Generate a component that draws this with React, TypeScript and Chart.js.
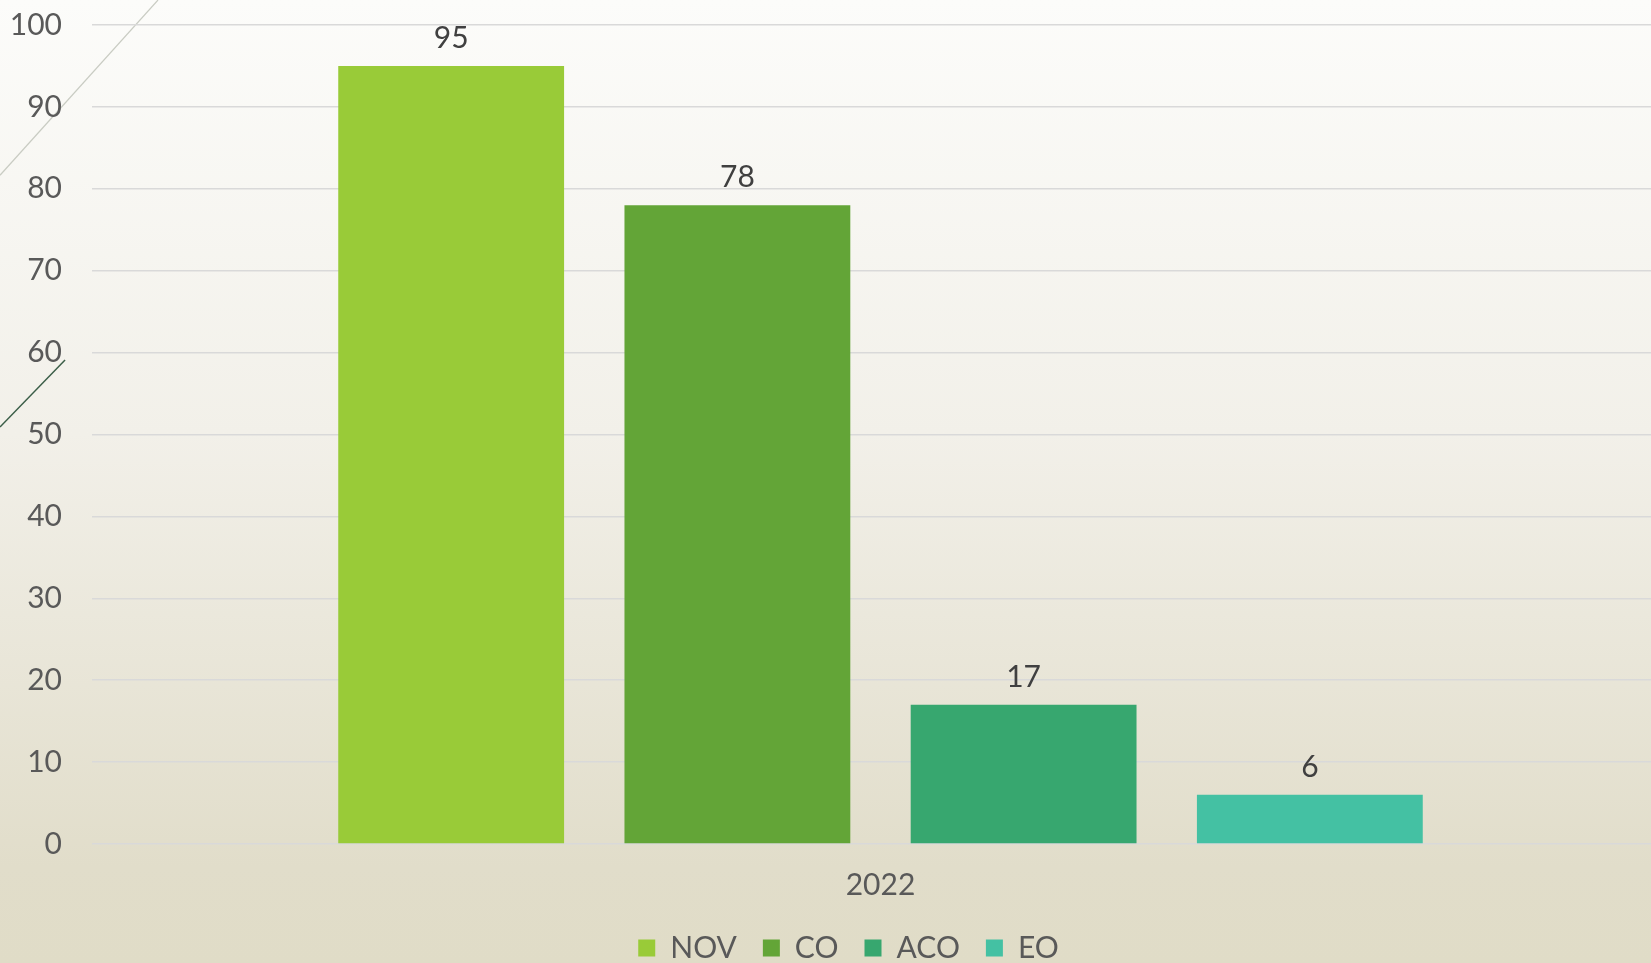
import React, { useEffect, useRef } from "react";
import { Chart, registerables } from "chart.js";

Chart.register(...registerables);

// ---- data ----
const categories = ["2022"];
const seriesNames = ["NOV", "CO", "ACO", "EO"];
const novValues = [95];
const coValues = [78];
const acoValues = [17];
const eoValues = [6];
const seriesColors = ["#99CB38", "#63A537", "#37A76F", "#44C1A3"];
const yMin = 0;
const yMax = 100;
const yStep = 10;

const FONT = "Lato, 'Noto Sans', sans-serif";

const backgroundPlugin = {
  id: "slideBackground",
  beforeDraw(chart: any) {
    const { ctx, width, height } = chart;
    ctx.save();
    const g = ctx.createLinearGradient(0, 0, 0, height);
    g.addColorStop(0, "#fcfcfa");
    g.addColorStop(0.45, "#f2f0e9");
    g.addColorStop(0.9, "#e1ddca");
    g.addColorStop(1, "#e0dcc7");
    ctx.fillStyle = g;
    ctx.fillRect(0, 0, width, height);
    // decorative theme lines
    ctx.lineWidth = 1.2;
    ctx.strokeStyle = "#c9ccc3";
    ctx.beginPath();
    ctx.moveTo(0, height * 0.182);
    ctx.lineTo(width * 0.0957, 0);
    ctx.stroke();
    ctx.lineWidth = 1.5;
    ctx.strokeStyle = "#3b5e48";
    ctx.beginPath();
    ctx.moveTo(0, height * 0.4434);
    ctx.lineTo(width * 0.0394, height * 0.3738);
    ctx.stroke();
    ctx.restore();
  },
};

const layoutTweakPlugin = {
  id: "layoutTweak",
  afterLayout(chart: any) {
    const extra = 18;
    const x = chart.scales.x;
    x.right += extra;
    x.width += extra;
    x.configure();
    chart.chartArea.right += extra;
    chart.chartArea.width += extra;
    const shift = 23;
    if (chart.legend) {
      chart.legend.left += shift;
      chart.legend.right += shift;
    }
  },
};

const valueLabelPlugin = {
  id: "valueLabels",
  afterDatasetsDraw(chart: any) {
    const { ctx } = chart;
    ctx.save();
    ctx.font = `30px ${FONT}`;
    ctx.fillStyle = "#404040";
    ctx.textAlign = "center";
    ctx.textBaseline = "alphabetic";
    chart.data.datasets.forEach((ds: any, i: number) => {
      const meta = chart.getDatasetMeta(i);
      meta.data.forEach((el: any, j: number) => {
        ctx.fillText(String(ds.data[j]), el.x, el.y - 18);
      });
    });
    ctx.restore();
  },
};

export default function App() {
  const canvasRef = useRef<HTMLCanvasElement | null>(null);

  useEffect(() => {
    if (!canvasRef.current) return;
    const seriesValues = [novValues, coValues, acoValues, eoValues];
    const chart = new Chart(canvasRef.current, {
      type: "bar",
      data: {
        labels: categories,
        datasets: seriesNames.map((name, i) => ({
          label: name,
          data: seriesValues[i],
          backgroundColor: seriesColors[i],
          borderWidth: 0,
          categoryPercentage: 0.726,
          barPercentage: 0.789,
        })),
      },
      options: {
        animation: false,
        responsive: false,
        maintainAspectRatio: false,
        devicePixelRatio: 1,
        events: [],
        layout: { padding: { top: 25, left: 0, right: 0, bottom: 0 } },
        plugins: {
          tooltip: { enabled: false },
          title: { display: false },
          legend: {
            position: "bottom",
            maxHeight: 56,
            labels: {
              boxWidth: 17,
              boxHeight: 17,
              padding: 26,
              color: "#595959",
              font: { family: FONT, size: 30 },
            },
          },
        },
        scales: {
          x: {
            grid: { display: false },
            border: { display: false },
            ticks: {
              color: "#595959",
              font: { family: FONT, size: 30 },
              padding: 15,
            },
            afterFit: (s: any) => {
              s.height = 63;
            },
          },
          y: {
            min: yMin,
            max: yMax,
            grid: {
              color: "#d9d9d9",
              lineWidth: 1.6,
              drawTicks: true,
              tickLength: 30,
              tickColor: "rgba(0,0,0,0)",
            },
            border: { display: false },
            ticks: {
              stepSize: yStep,
              color: "#595959",
              font: { family: FONT, size: 30 },
              padding: 0,
            },
            afterFit: (s: any) => {
              s.width = 92;
            },
          },
        },
      },
      plugins: [backgroundPlugin, layoutTweakPlugin, valueLabelPlugin],
    });
    return () => chart.destroy();
  }, []);

  return (
    <div style={{ position: "absolute", left: 0, top: 0, width: 1651, height: 963 }}>
      <canvas ref={canvasRef} width={1651} height={963} style={{ width: 1651, height: 963 }} />
    </div>
  );
}
